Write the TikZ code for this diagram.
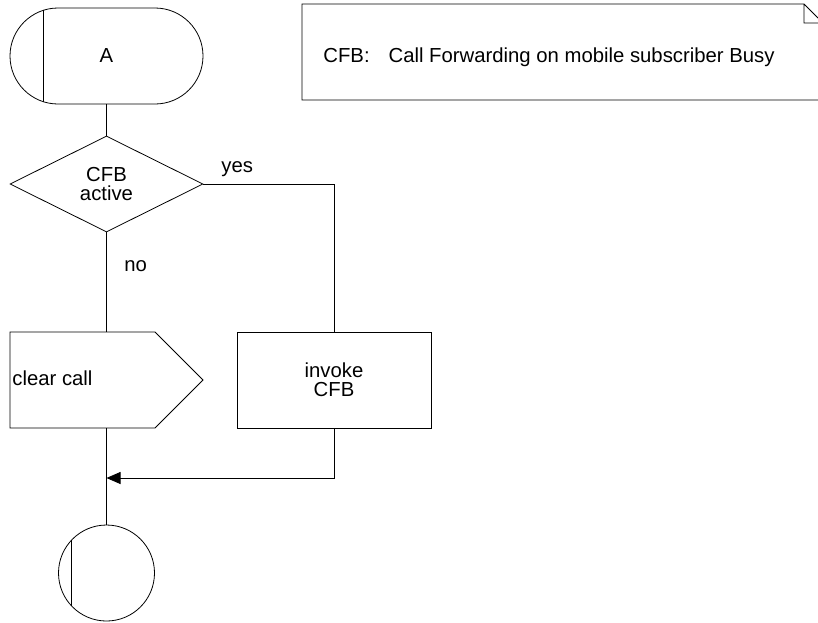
\documentclass[tikz,border=0pt]{standalone}
\usepackage{fontspec}
\setmainfont{Liberation Sans}
\usetikzlibrary{shapes.geometric, shapes.misc, shapes.symbols, arrows.meta}
\tikzset{sdl/.style={draw, line width=0.8pt, inner sep=0pt,
                     font=\fontsize{20.3}{19}\selectfont},
         startbox/.style={sdl, rounded rectangle, minimum width=193pt,
                          minimum height=96pt},
         decision/.style={sdl, diamond, minimum width=193pt,
                          minimum height=96pt, align=center},
         outsignal/.style={sdl, signal, signal to=east,
                           signal pointer angle=90, minimum width=193pt,
                           minimum height=96pt},
         taskbox/.style={sdl, rectangle, minimum width=194pt,
                         minimum height=96pt, align=center},
         joinpoint/.style={sdl, circle, minimum size=96pt},
         flowlabel/.style={font=\fontsize{20.3}{19}\selectfont, inner sep=0pt}}

\begin{document}
\begin{tikzpicture}[x=1pt, y=-1pt, line width=0.8pt]
      \useasboundingbox (0,0) rectangle (818,622);
      \draw node[startbox] (start) at (106.5,56) {A};
      \draw node[decision] (test) at (106.5,184) {CFB\\active};
      \draw node[outsignal] (clear) at (82.5,380) {};
      \draw node[taskbox] (invoke) at (334,380) {invoke\\CFB};
      \draw node[joinpoint] (stop) at (106.5,573) {};
      \coordinate (merge) at (106.5,478);

      \node[flowlabel, anchor=base west] (yes) at (221,172) {yes};
      \node[flowlabel, anchor=base west] (no) at (124,271) {no};
      \node[flowlabel, anchor=base west] (cleartext) at (12,385) {clear call};
      \node[flowlabel, anchor=base west] (notetext) at (323,62)
        {CFB:\hspace{19pt}Call Forwarding on mobile subscriber Busy};

      \draw (start.west) ++(34,-46) -- ++(0,92);
      \draw (stop.center) ++(-35,-33) -- ++(0,66);

      \draw (804,4) -- (302,4) -- (302,100) -- (818,100)
        (804,4) -- (804,23) -- (818,23)
        (804,4) -- (818,18);

      \draw (start.south) -- (test.north)
        (test.east) -| (invoke.north)
        (test.south) -- (test.south |- clear.north)
        (clear.south -| stop.north) -- (stop.north);
      \draw[-{Triangle[length=14pt, width=12pt]}] (invoke.south) |- (merge);
    \end{tikzpicture}
\end{document}
